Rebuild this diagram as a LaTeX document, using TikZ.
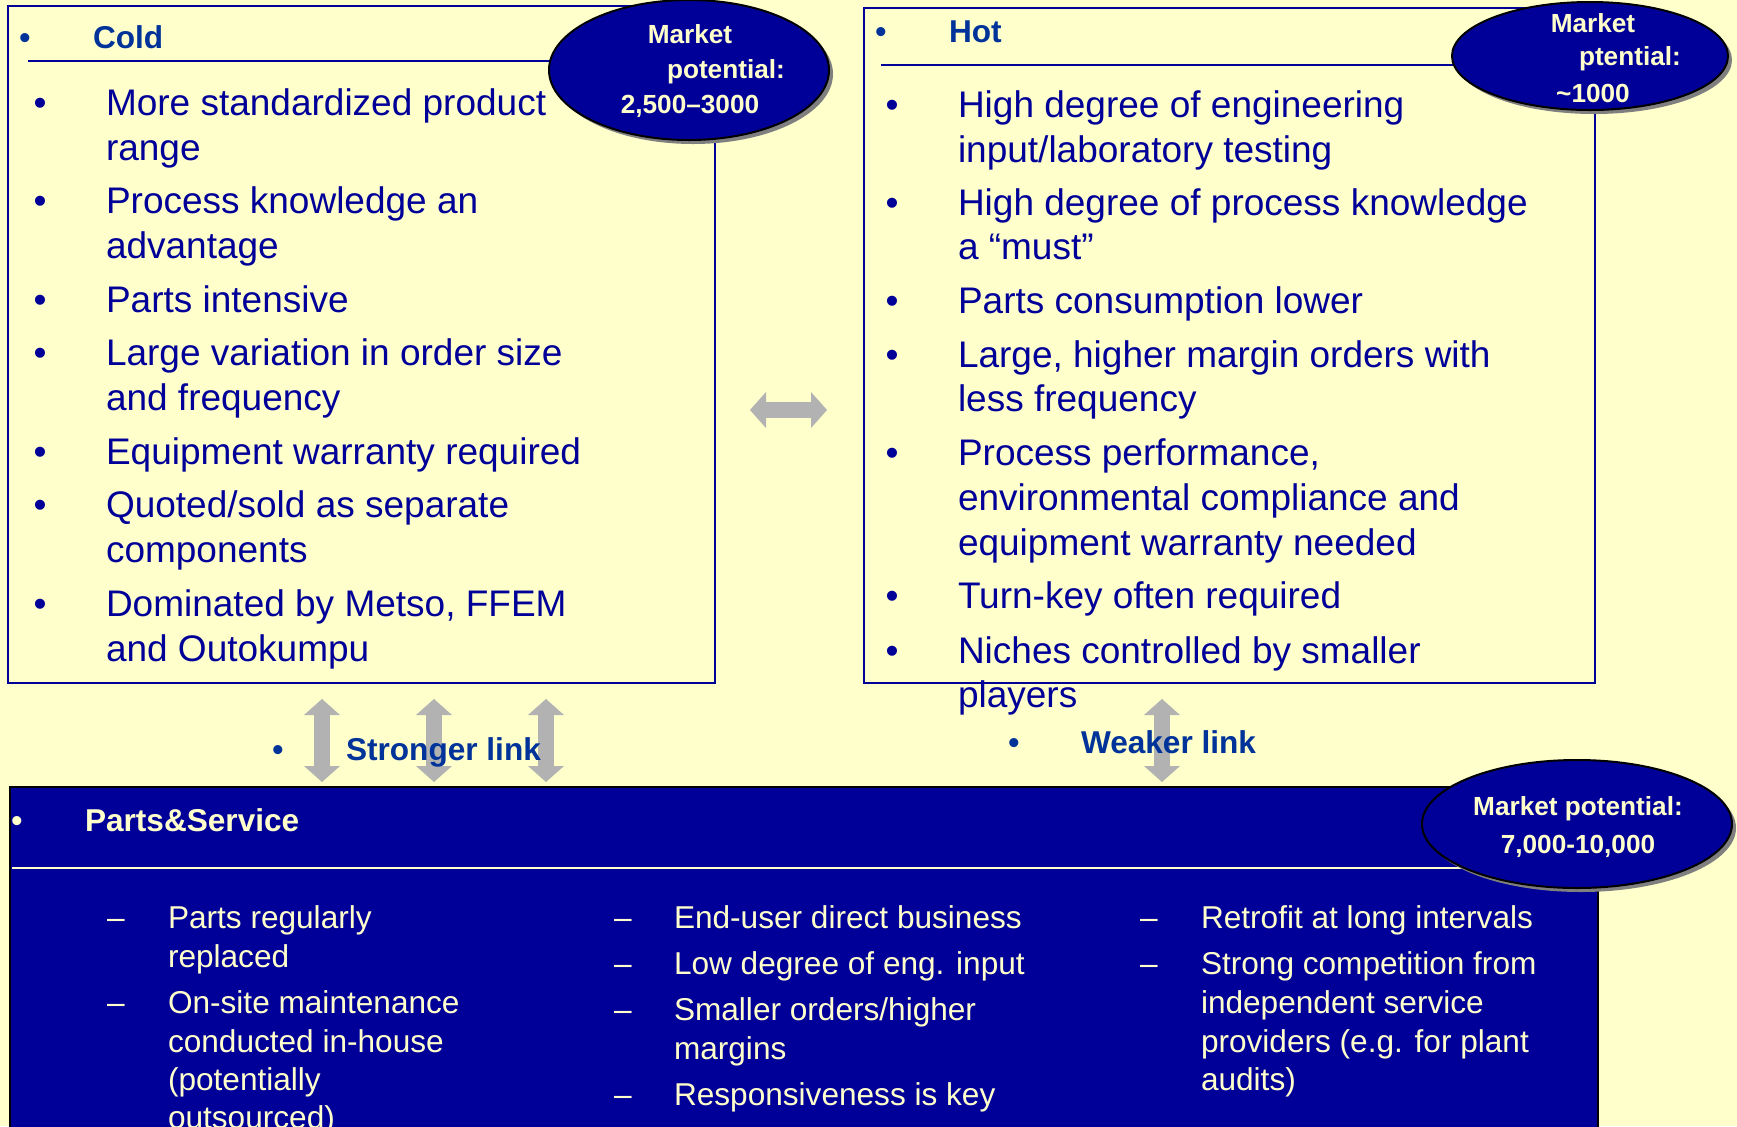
\documentclass[tikz,border=0pt]{standalone}
\usepackage{fontspec}
\setmainfont{Liberation Sans}
\usetikzlibrary{shapes.geometric,shadows,arrows.meta,calc}

\definecolor{paper}{HTML}{FFFFCC}
\definecolor{navy}{HTML}{000099}
\definecolor{linkblue}{HTML}{003399}
\definecolor{cream}{HTML}{FFFFCC}
\definecolor{linkgray}{HTML}{B2B2B2}
\definecolor{shade}{HTML}{7F7F7F}

\newcommand\fbody{\fontsize{18.5pt}{22.5pt}\selectfont}
\newcommand\fhead{\fontsize{15.8pt}{19pt}\selectfont\bfseries}
\newcommand\fpot{\fontsize{13.1pt}{16pt}\selectfont\bfseries}
\newcommand\fsvc{\fontsize{15.8pt}{19pt}\selectfont}

\begin{document}
\begin{tikzpicture}[x=0.5pt,y=-0.5pt,
  txt/.style={inner sep=0pt, outer sep=0pt, anchor=base west},
  bodytxt/.style={txt, font=\fbody, text=navy},
  bodybullet/.style={txt, anchor=base, font=\fbody, text=navy},
  headtxt/.style={txt, font=\fhead, text=linkblue},
  headbullet/.style={txt, anchor=base, font=\fhead, text=linkblue},
  svctxt/.style={txt, font=\fsvc, text=cream},
  svcdash/.style={txt, anchor=base, font=\fsvc, text=cream},
  pottxt/.style={txt, font=\fpot, text=cream},
  boxframe/.style={draw=navy, line width=1pt, inner sep=0pt, outer sep=0pt},
  potential/.style={ellipse, draw=black, line width=1pt, fill=navy,
    inner sep=0pt, outer sep=0pt,
    drop shadow={shadow xshift=2pt, shadow yshift=-2pt, fill=shade, opacity=1}},
  linkarrow/.style={color=linkgray, line width=8.25pt,
    {Triangle[length=8pt,width=18pt,line width=0pt]}-{Triangle[length=8pt,width=18pt,line width=0pt]}},
]
\useasboundingbox (0,0) rectangle (1737,1126);
\fill[paper] (0,0) rectangle (1737,1126);

% ---- the two segment boxes
\node[boxframe, minimum width=353.5pt, minimum height=338.5pt] (cold) at (361.5,344.5) {};
\node[boxframe, minimum width=365.5pt, minimum height=337.5pt] (hot) at (1229.5,345.5) {};
\draw[navy, line width=1pt] ($(cold.north west)+(20,55)$) -- ++(620,0);
\draw[navy, line width=1pt] ($(hot.north west)+(17,57)$) -- ++(680,0);

% ---- headers
\node[headbullet] (coldb) at (25,48) {•};
\node[headtxt] (coldh) at (93,48) {Cold};
\node[headbullet] (hotb) at (881,42) {•};
\node[headtxt] (hoth) at (949,42) {Hot};

% ---- market potential ovals of the segments
\node[potential, minimum width=140pt, minimum height=70pt] (coldpot) at (689,70) {};
\node[pottxt, anchor=base] (coldpot1) at (690,43) {Market};
\node[pottxt] (coldpot2) at (667,78) {potential:};
\node[pottxt, anchor=base] (coldpot3) at (690,113) {2,500–3000};

\node[potential, minimum width=138pt, minimum height=54pt] (hotpot) at (1590,56) {};
\node[pottxt, anchor=base] (hotpot1) at (1593,32) {Market};
\node[pottxt] (hotpot2) at (1579,65) {ptential:};
\node[pottxt, anchor=base] (hotpot3) at (1593,102) {\textasciitilde 1000};

% ---- cold items
\foreach \y/\t [count=\i] in {115/More standardized product, 160/range,
  213/Process knowledge an, 258/advantage, 312/Parts intensive,
  365/Large variation in order size, 410/and frequency,
  464/Equipment warranty required, 517/{Quoted\slash sold as separate},
  562/components, 616/{Dominated by Metso, FFEM}, 661/and Outokumpu}
  \node[bodytxt] (cl\i) at (106,\y) {\t};
\foreach \y [count=\i] in {115,213,312,365,464,517,616}
  \node[bodybullet] (cb\i) at (40,\y) {•};

% ---- hot items
\foreach \y/\t [count=\i] in {117/High degree of engineering,
  162/{input\slash laboratory testing}, 215/High degree of process knowledge,
  259/a “must”, 313/Parts consumption lower,
  367/{Large, higher margin orders with}, 411/less frequency,
  465/{Process performance,}, 510/environmental compliance and,
  555/equipment warranty needed, 608/Turn-key often required,
  663/Niches controlled by smaller, 707/players}
  \node[bodytxt] (hl\i) at (958,\y) {\t};
\foreach \y [count=\i] in {117,215,313,367,465,608,663}
  \node[bodybullet] (hb\i) at (892,\y) {•};

% ---- service box
\node[fill=navy, draw=black, line width=1.25pt, inner sep=0pt, outer sep=0pt,
  minimum width=794pt, minimum height=176.5pt] (parts) at (804,963.5) {};
\draw[cream, line width=1pt] ($(parts.north west)+(2,81)$) -- ++(1480,0);

% ---- links between the segments and the service business
\draw[linkarrow] ($(cold.east)+(35,65.5)$) -- ($(hot.west)+(-37,64.5)$);
\draw[linkarrow] ($(cold.south)+(-39.5,16)$) -- ($(parts.north)+(-482,-5)$);
\draw[linkarrow] ($(cold.south)+(72.5,16)$) -- ($(parts.north)+(-370,-5)$);
\draw[linkarrow] ($(cold.south)+(184.5,16)$) -- ($(parts.north)+(-258,-5)$);
\draw[linkarrow] ($(hot.south)+(-67.5,16)$) -- ($(parts.north)+(358,-5)$);

\node[headbullet] (strongb) at (278,760) {•};
\node[headtxt] (strong) at (346,760) {Stronger link};
\node[headbullet] (weakb) at (1014,753) {•};
\node[headtxt] (weak) at (1081,753) {Weaker link};

% ---- service header and oval
\node[headbullet, text=cream] (partsb) at (17,831) {•};
\node[headtxt, text=cream] (partsh) at (85,831) {Parts\&Service};

\node[potential, minimum width=155pt, minimum height=64pt] (partspot) at (1577,824) {};
\node[pottxt, anchor=base] (partspot1) at (1578,815) {Market potential:};
\node[pottxt, anchor=base] (partspot2) at (1578,853) {7,000-10,000};

% ---- service columns
\foreach \y/\t [count=\i] in {928/Parts regularly, 967/replaced,
  1013/On-site maintenance, 1052/conducted in-house, 1090/(potentially,
  1128/outsourced)}
  \node[svctxt] (sa\i) at (168,\y) {\t};
\foreach \y [count=\i] in {928,1013}
  \node[svcdash] (sad\i) at (116,\y) {–};

\foreach \y/\t [count=\i] in {928/End-user direct business,
  974/Low degree of eng. input, 1020/{Smaller orders\slash higher}, 1059/margins,
  1105/Responsiveness is key}
  \node[svctxt] (sb\i) at (674,\y) {\t};
\foreach \y [count=\i] in {928,974,1020,1105}
  \node[svcdash] (sbd\i) at (623,\y) {–};

\foreach \y/\t [count=\i] in {928/Retrofit at long intervals,
  974/Strong competition from, 1013/independent service,
  1052/providers (e.g. for plant, 1090/audits)}
  \node[svctxt] (sc\i) at (1201,\y) {\t};
\foreach \y [count=\i] in {928,974}
  \node[svcdash] (scd\i) at (1149,\y) {–};
\end{tikzpicture}
\end{document}
